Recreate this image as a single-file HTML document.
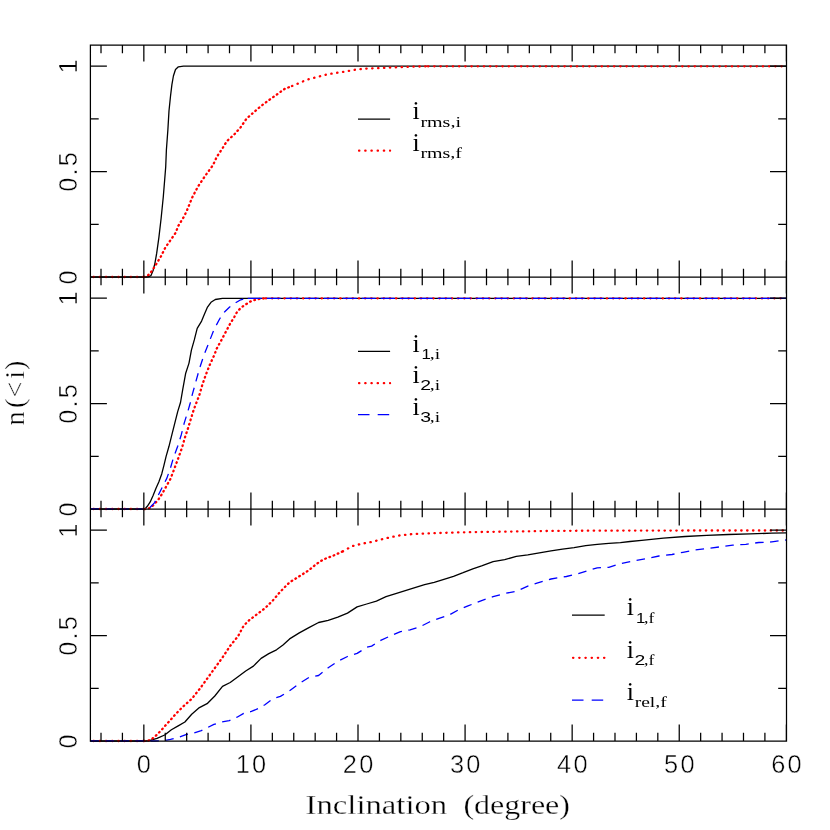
<!DOCTYPE html>
<html><head><meta charset="utf-8"><title>n(&lt;i) vs Inclination</title>
<style>html,body{margin:0;padding:0;background:#fff}svg{display:block}.t{font-family:"Liberation Sans",sans-serif;font-size:25.4px;fill:#000;letter-spacing:2.2px;stroke:#fff;stroke-width:0.45px;paint-order:fill stroke}.thin{stroke:#fff;stroke-width:0.28px;paint-order:fill stroke}.r{font-family:"Liberation Serif",serif;fill:#000}</style></head><body>
<svg style="will-change:transform" width="830" height="830" viewBox="0 0 830 830">
<rect width="830" height="830" fill="#fff"/>
<polyline stroke="#000" stroke-width="1.3" fill="none" stroke-linejoin="round" points="90.4,277.0 146.5,277.0 148.1,276.8 151.0,275.6 153.1,270.5 154.9,263.3 156.7,253.2 158.9,237.3 161.1,218.5 163.3,196.8 164.7,179.5 165.7,167.0 166.4,149.8 167.9,129.5 169.0,110.7 170.5,96.3 171.9,84.7 173.4,76.0 175.5,69.5 178.4,66.8 183.5,66.2 786.5,66.2"/>
<polyline stroke="#ff0000" stroke-width="2.3" fill="none" stroke-linecap="round" stroke-dasharray="0.4 5.8" points="93.5,277 144,277"/>
<polyline stroke="#ff0000" stroke-width="2.3" fill="none" stroke-linecap="round" stroke-linejoin="round" stroke-dasharray="0.7 3.8" points="144.0,277.0 145.9,276.6 149.5,274.2 153.1,269.1 156.7,263.3 161.1,256.1 165.4,247.4 170.5,240.2 175.5,233.0 178.4,225.7 184.2,216.3 187.8,208.4 192.2,197.5 197.9,186.7 205.2,175.8 213.1,165.0 216.7,157.0 222.5,148.3 226.9,141.1 234.1,134.6 240.5,127.5 246.7,118.4 254.5,111.7 261.2,105.9 268.9,100.1 276.6,94.7 284.3,89.1 292.0,86.0"/>
<polyline stroke="#ff0000" stroke-width="2.3" fill="none" stroke-linecap="round" stroke-linejoin="round" stroke-dasharray="0.4 5.5" points="292.0,86.0 299.8,82.8 307.5,79.5 317.1,77.0 326.7,74.5 334.5,73.1 344.1,71.8 353.7,69.9 363.4,68.7 374.9,68.3 386.5,67.7 400.0,67.2 415.0,66.6 428.0,66.3"/>
<polyline stroke="#ff0000" stroke-width="2.3" fill="none" stroke-linecap="round" stroke-dasharray="0.4 5.8" points="428.0,66.3 786.5,66.3"/>
<polyline stroke="#000" stroke-width="1.3" fill="none" stroke-linejoin="round" points="90.4,509.0 144.5,509.0 145.2,508.7 147.3,506.3 150.2,501.9 153.1,495.4 156.0,488.2 158.9,481.7 161.8,473.7 164.0,465.1 166.1,456.4 169.0,446.3 171.9,434.7 174.8,423.1 177.7,411.6 180.5,402.5 182.8,389.1 185.7,373.2 189.0,363.1 191.4,350.1 194.3,339.9 197.2,328.4 201.6,321.1 204.5,313.9 207.3,307.4 211.0,302.3 215.3,299.5 222.5,298.3 786.5,298.3"/>
<polyline stroke="#ff0000" stroke-width="2.3" fill="none" stroke-linecap="round" stroke-dasharray="0.4 5.8" points="93.5,509 144.5,509"/>
<polyline stroke="#ff0000" stroke-width="2.3" fill="none" stroke-linecap="round" stroke-linejoin="round" stroke-dasharray="0.7 3.8" points="144.5,509.1 145.9,509.0 149.5,508.1 153.9,504.8 158.2,499.8 162.5,493.2 166.1,486.7 170.5,478.8 174.1,469.4 178.4,457.8 182.0,447.7 184.9,437.6 187.8,428.9 190.7,419.5 193.6,410.1 196.5,402.5 199.4,394.9 202.3,384.8 205.9,374.6 210.2,363.8 214.6,354.4 216.7,348.6 221.1,340.7 226.1,331.3 229.8,324.3 234.3,317.0 237.3,311.5 239.9,308.9 242.9,306.3 246.5,303.9 250.1,301.7 254.9,299.9 259.8,298.8 265.8,298.3"/>
<polyline stroke="#ff0000" stroke-width="2.3" fill="none" stroke-linecap="round" stroke-dasharray="0.4 5.8" points="265.8,298.3 786.5,298.3"/>
<polyline stroke="#0000ff" stroke-width="1.3" fill="none" stroke-linejoin="round" stroke-dasharray="8.5 6.5" points="90.4,509.0 145.9,509.1 150.2,507.3 154.6,502.6 158.2,495.4 162.5,486.7 166.9,478.1 170.5,467.9 173.4,457.8 177.7,446.3 181.3,434.7 184.2,423.1 187.8,411.6 190.4,402.5 192.2,394.9 195.8,381.9 199.4,368.9 203.7,355.8 208.8,342.8 213.9,329.8 219.6,319.0 224.5,312.0 229.4,307.2 234.5,303.5 239.9,300.2 244.0,298.8 247.7,298.3"/>
<polyline stroke="#0000ff" stroke-width="1.25" fill="none" stroke-dasharray="14 5" points="247.7,298.3 786.5,298.3"/>
<polyline stroke="#000" stroke-width="1.3" fill="none" stroke-linejoin="round" points="90.4,741.0 145.0,741.0 149.3,740.7 157.0,738.4 164.7,735.0 171.4,729.8 178.2,725.9 184.9,722.0 191.7,714.3 199.4,707.6 207.1,703.7 214.8,696.0 222.5,686.4 230.2,682.5 238.0,676.7 245.7,671.0 253.4,666.1 261.1,658.4 268.8,653.6 276.5,649.8 283.0,645.0 289.6,638.9 299.3,632.9 308.9,627.6 318.6,622.5 328.2,620.4 337.8,617.2 347.5,613.1 357.1,606.9 366.7,604.0 376.4,601.1 386.0,596.7 395.7,593.6 405.3,590.7 414.9,587.6 424.6,584.7 434.2,582.3 443.9,579.4 453.5,576.3 463.1,572.7 472.8,568.8 481.6,565.9 493.1,561.7 504.7,559.7 516.3,556.3 527.8,554.9 539.4,552.8 551.0,550.9 562.5,549.1 574.1,547.6 585.7,545.7 597.2,544.3 608.8,543.3 620.4,542.6 630.0,541.5 641.7,540.4 663.4,538.2 685.1,536.5 706.7,535.4 728.4,534.5 750.1,533.9 771.8,533.2 786.5,532.8"/>
<polyline stroke="#ff0000" stroke-width="2.3" fill="none" stroke-linecap="round" stroke-dasharray="0.4 5.8" points="93.5,741 144,741"/>
<polyline stroke="#ff0000" stroke-width="2.3" fill="none" stroke-linecap="round" stroke-linejoin="round" stroke-dasharray="0.7 3.8" points="144.0,741.0 148.3,740.7 154.1,737.5 160.8,730.7 168.6,722.0 176.3,713.4 184.0,705.7 191.7,698.9 199.4,689.3 207.1,678.7 214.8,668.1 222.5,657.5 230.2,645.9 238.0,636.3 243.7,625.7 249.5,619.9 257.2,614.1 264.9,608.3 272.7,600.6 280.2,591.8 289.6,582.3 299.3,576.3 308.9,570.2 316.1,564.2 323.4,559.4 333.0,555.8 342.7,551.4"/>
<polyline stroke="#ff0000" stroke-width="2.3" fill="none" stroke-linecap="round" stroke-linejoin="round" stroke-dasharray="0.4 5.5" points="342.7,551.4 352.3,546.1 361.9,543.7 371.6,542.0 381.2,539.4 390.8,537.2 400.5,535.3 412.5,534.1 424.6,533.6 436.6,533.1 448.7,532.7 460.7,532.4 480.0,532.0 508.6,531.6 547.1,531.0 585.7,530.7 630.0,530.6 700.0,530.5 786.5,530.5"/>
<polyline stroke="#0000ff" stroke-width="1.3" fill="none" stroke-linejoin="round" stroke-dasharray="8.5 6.5" points="90.4,741.0 155.0,741.0 162.8,740.9 170.5,739.4 178.2,737.5 185.9,734.6 193.6,733.0 201.3,730.7 207.1,727.8 213.9,724.4 221.6,722.0 229.3,720.7 237.0,717.2 243.7,713.4 251.4,711.4 258.2,708.6 264.9,704.7 272.7,698.9 280.4,696.4 289.6,690.7 299.3,683.5 308.9,677.5 318.6,675.5 328.2,667.8 337.8,661.3 347.5,656.5 357.1,653.4 366.7,647.3 371.6,646.1 381.2,640.1 390.8,635.8 400.5,631.7 410.1,629.8 419.8,626.9 429.4,622.0 439.0,618.4 448.7,615.3 458.3,610.0 468.0,605.9 481.6,600.6 493.1,596.7 504.7,593.5 516.3,591.3 527.8,586.1 539.4,582.3 551.0,579.0 566.4,576.5 578.0,573.6 589.5,570.1 597.2,567.8 608.8,567.3 620.4,563.8 633.0,561.0 646.0,558.8 659.0,556.0 672.0,554.5 682.9,552.3 693.7,550.1 706.7,548.6 719.8,546.9 732.8,545.1 745.8,544.3 758.8,542.5 771.8,541.9 786.5,539.9"/>
<path d="M90.4,45.0H786.5V741.1H90.4ZM90.4,277.0H786.5M90.4,509.0H786.5M101.01,45.0v8.3M101.01,277.0v-8.3M101.01,277.0v8.3M101.01,509.0v-8.3M101.01,509.0v8.3M101.01,741.1v-8.3M122.42,45.0v8.3M122.42,277.0v-8.3M122.42,277.0v8.3M122.42,509.0v-8.3M122.42,509.0v8.3M122.42,741.1v-8.3M143.84,45.0v16.5M143.84,277.0v-16.5M143.84,277.0v16.5M143.84,509.0v-16.5M143.84,509.0v16.5M143.84,741.1v-16.5M165.26,45.0v8.3M165.26,277.0v-8.3M165.26,277.0v8.3M165.26,509.0v-8.3M165.26,509.0v8.3M165.26,741.1v-8.3M186.67,45.0v8.3M186.67,277.0v-8.3M186.67,277.0v8.3M186.67,509.0v-8.3M186.67,509.0v8.3M186.67,741.1v-8.3M208.09,45.0v8.3M208.09,277.0v-8.3M208.09,277.0v8.3M208.09,509.0v-8.3M208.09,509.0v8.3M208.09,741.1v-8.3M229.50,45.0v8.3M229.50,277.0v-8.3M229.50,277.0v8.3M229.50,509.0v-8.3M229.50,509.0v8.3M229.50,741.1v-8.3M250.92,45.0v16.5M250.92,277.0v-16.5M250.92,277.0v16.5M250.92,509.0v-16.5M250.92,509.0v16.5M250.92,741.1v-16.5M272.34,45.0v8.3M272.34,277.0v-8.3M272.34,277.0v8.3M272.34,509.0v-8.3M272.34,509.0v8.3M272.34,741.1v-8.3M293.75,45.0v8.3M293.75,277.0v-8.3M293.75,277.0v8.3M293.75,509.0v-8.3M293.75,509.0v8.3M293.75,741.1v-8.3M315.17,45.0v8.3M315.17,277.0v-8.3M315.17,277.0v8.3M315.17,509.0v-8.3M315.17,509.0v8.3M315.17,741.1v-8.3M336.58,45.0v8.3M336.58,277.0v-8.3M336.58,277.0v8.3M336.58,509.0v-8.3M336.58,509.0v8.3M336.58,741.1v-8.3M358.00,45.0v16.5M358.00,277.0v-16.5M358.00,277.0v16.5M358.00,509.0v-16.5M358.00,509.0v16.5M358.00,741.1v-16.5M379.42,45.0v8.3M379.42,277.0v-8.3M379.42,277.0v8.3M379.42,509.0v-8.3M379.42,509.0v8.3M379.42,741.1v-8.3M400.83,45.0v8.3M400.83,277.0v-8.3M400.83,277.0v8.3M400.83,509.0v-8.3M400.83,509.0v8.3M400.83,741.1v-8.3M422.25,45.0v8.3M422.25,277.0v-8.3M422.25,277.0v8.3M422.25,509.0v-8.3M422.25,509.0v8.3M422.25,741.1v-8.3M443.66,45.0v8.3M443.66,277.0v-8.3M443.66,277.0v8.3M443.66,509.0v-8.3M443.66,509.0v8.3M443.66,741.1v-8.3M465.08,45.0v16.5M465.08,277.0v-16.5M465.08,277.0v16.5M465.08,509.0v-16.5M465.08,509.0v16.5M465.08,741.1v-16.5M486.50,45.0v8.3M486.50,277.0v-8.3M486.50,277.0v8.3M486.50,509.0v-8.3M486.50,509.0v8.3M486.50,741.1v-8.3M507.91,45.0v8.3M507.91,277.0v-8.3M507.91,277.0v8.3M507.91,509.0v-8.3M507.91,509.0v8.3M507.91,741.1v-8.3M529.33,45.0v8.3M529.33,277.0v-8.3M529.33,277.0v8.3M529.33,509.0v-8.3M529.33,509.0v8.3M529.33,741.1v-8.3M550.74,45.0v8.3M550.74,277.0v-8.3M550.74,277.0v8.3M550.74,509.0v-8.3M550.74,509.0v8.3M550.74,741.1v-8.3M572.16,45.0v16.5M572.16,277.0v-16.5M572.16,277.0v16.5M572.16,509.0v-16.5M572.16,509.0v16.5M572.16,741.1v-16.5M593.58,45.0v8.3M593.58,277.0v-8.3M593.58,277.0v8.3M593.58,509.0v-8.3M593.58,509.0v8.3M593.58,741.1v-8.3M614.99,45.0v8.3M614.99,277.0v-8.3M614.99,277.0v8.3M614.99,509.0v-8.3M614.99,509.0v8.3M614.99,741.1v-8.3M636.41,45.0v8.3M636.41,277.0v-8.3M636.41,277.0v8.3M636.41,509.0v-8.3M636.41,509.0v8.3M636.41,741.1v-8.3M657.82,45.0v8.3M657.82,277.0v-8.3M657.82,277.0v8.3M657.82,509.0v-8.3M657.82,509.0v8.3M657.82,741.1v-8.3M679.24,45.0v16.5M679.24,277.0v-16.5M679.24,277.0v16.5M679.24,509.0v-16.5M679.24,509.0v16.5M679.24,741.1v-16.5M700.66,45.0v8.3M700.66,277.0v-8.3M700.66,277.0v8.3M700.66,509.0v-8.3M700.66,509.0v8.3M700.66,741.1v-8.3M722.07,45.0v8.3M722.07,277.0v-8.3M722.07,277.0v8.3M722.07,509.0v-8.3M722.07,509.0v8.3M722.07,741.1v-8.3M743.49,45.0v8.3M743.49,277.0v-8.3M743.49,277.0v8.3M743.49,509.0v-8.3M743.49,509.0v8.3M743.49,741.1v-8.3M764.90,45.0v8.3M764.90,277.0v-8.3M764.90,277.0v8.3M764.90,509.0v-8.3M764.90,509.0v8.3M764.90,741.1v-8.3M786.32,45.0v16.5M786.32,277.0v-16.5M786.32,277.0v16.5M786.32,509.0v-16.5M786.32,509.0v16.5M786.32,741.1v-16.5M90.4,224.28h8.3M786.5,224.28h-8.3M90.4,171.55h16.5M786.5,171.55h-16.5M90.4,118.82h8.3M786.5,118.82h-8.3M90.4,66.10h16.5M786.5,66.10h-16.5M90.4,456.27h8.3M786.5,456.27h-8.3M90.4,403.55h16.5M786.5,403.55h-16.5M90.4,350.82h8.3M786.5,350.82h-8.3M90.4,298.10h16.5M786.5,298.10h-16.5M90.4,688.38h8.3M786.5,688.38h-8.3M90.4,635.65h16.5M786.5,635.65h-16.5M90.4,582.92h8.3M786.5,582.92h-8.3M90.4,530.20h16.5M786.5,530.20h-16.5" stroke="#000" stroke-width="1.25" fill="none" stroke-linecap="butt"/>
<text class="t" x="145.0" y="772.6" text-anchor="middle">0</text>
<text class="t" x="252.1" y="772.6" text-anchor="middle">10</text>
<text class="t" x="359.2" y="772.6" text-anchor="middle">20</text>
<text class="t" x="466.3" y="772.6" text-anchor="middle">30</text>
<text class="t" x="573.4" y="772.6" text-anchor="middle">40</text>
<text class="t" x="680.4" y="772.6" text-anchor="middle">50</text>
<text class="t" x="787.5" y="772.6" text-anchor="middle">60</text>
<text class="t" transform="translate(77.0,276.3) rotate(-90)" text-anchor="middle">0</text>
<text class="t" transform="translate(77.0,170.9) rotate(-90)" text-anchor="middle">0.5</text>
<text class="t" transform="translate(77.0,65.4) rotate(-90)" text-anchor="middle">1</text>
<text class="t" transform="translate(77.0,508.3) rotate(-90)" text-anchor="middle">0</text>
<text class="t" transform="translate(77.0,402.9) rotate(-90)" text-anchor="middle">0.5</text>
<text class="t" transform="translate(77.0,297.4) rotate(-90)" text-anchor="middle">1</text>
<text class="t" transform="translate(77.0,740.4) rotate(-90)" text-anchor="middle">0</text>
<text class="t" transform="translate(77.0,634.9) rotate(-90)" text-anchor="middle">0.5</text>
<text class="t" transform="translate(77.0,529.5) rotate(-90)" text-anchor="middle">1</text>
<text class="r thin" id="xl" x="305.6" y="813.6" font-size="27" textLength="141.6" lengthAdjust="spacingAndGlyphs">Inclination</text>
<text class="r thin" id="xl2" x="463.4" y="813.6" font-size="27" textLength="106.6" lengthAdjust="spacingAndGlyphs">(degree)</text>
<text class="r thin" id="yl" transform="translate(24.3,425.2) rotate(-90)" font-size="28" x="-0.3 17.1 27.8 46.4 55.2">n(&lt;i)</text>
<path d="M358.0,119.19999999999999H390.1" stroke="#000" stroke-width="1.3"/>
<text class="r" x="412.4" y="119.4" font-size="25" textLength="7.2" lengthAdjust="spacingAndGlyphs">i</text>
<text class="r" x="420.4" y="126.6" font-size="15" textLength="40.6" lengthAdjust="spacingAndGlyphs">rms,i</text>
<path d="M359.0,150.70000000000002H390.1" stroke="#ff0000" stroke-width="2.2" stroke-linecap="round" stroke-dasharray="0.4 5.8"/>
<text class="r" x="412.4" y="150.7" font-size="25" textLength="7.2" lengthAdjust="spacingAndGlyphs">i</text>
<text class="r" x="420.4" y="157.9" font-size="15" textLength="41.6" lengthAdjust="spacingAndGlyphs">rms,f</text>
<path d="M358.0,351.40000000000003H390.1" stroke="#000" stroke-width="1.3"/>
<text class="r" x="412.4" y="351.6" font-size="25" textLength="7.2" lengthAdjust="spacingAndGlyphs">i</text>
<text x="421.6" y="358.8" font-size="14.8" textLength="9.4" lengthAdjust="spacingAndGlyphs" style="font-family:'Liberation Sans',sans-serif">1</text>
<text class="r" x="429.8" y="358.8" font-size="15" textLength="10.3" lengthAdjust="spacingAndGlyphs">,i</text>
<path d="M359.0,383.2H390.1" stroke="#ff0000" stroke-width="2.2" stroke-linecap="round" stroke-dasharray="0.4 5.8"/>
<text class="r" x="412.4" y="383.2" font-size="25" textLength="7.2" lengthAdjust="spacingAndGlyphs">i</text>
<text x="420.2" y="390.4" font-size="14.8" textLength="10.8" lengthAdjust="spacingAndGlyphs" style="font-family:'Liberation Sans',sans-serif">2</text>
<text class="r" x="429.8" y="390.4" font-size="15" textLength="10.3" lengthAdjust="spacingAndGlyphs">,i</text>
<path d="M358.0,414.5H390.1" stroke="#0000ff" stroke-width="1.25" stroke-dasharray="11.5 8.2"/>
<text class="r" x="412.4" y="414.7" font-size="25" textLength="7.2" lengthAdjust="spacingAndGlyphs">i</text>
<text x="420.2" y="421.9" font-size="14.8" textLength="10.8" lengthAdjust="spacingAndGlyphs" style="font-family:'Liberation Sans',sans-serif">3</text>
<text class="r" x="429.8" y="421.9" font-size="15" textLength="10.3" lengthAdjust="spacingAndGlyphs">,i</text>
<path d="M572.0,615.2H604.7" stroke="#000" stroke-width="1.3"/>
<text class="r" x="626.7" y="615.4" font-size="25" textLength="7.2" lengthAdjust="spacingAndGlyphs">i</text>
<text x="635.9" y="622.6" font-size="14.8" textLength="9.4" lengthAdjust="spacingAndGlyphs" style="font-family:'Liberation Sans',sans-serif">1</text>
<text class="r" x="644.1" y="622.6" font-size="15" textLength="10.3" lengthAdjust="spacingAndGlyphs">,f</text>
<path d="M573.0,657.8H604.7" stroke="#ff0000" stroke-width="2.2" stroke-linecap="round" stroke-dasharray="0.4 5.8"/>
<text class="r" x="626.7" y="657.8" font-size="25" textLength="7.2" lengthAdjust="spacingAndGlyphs">i</text>
<text x="634.5" y="665.0" font-size="14.8" textLength="10.8" lengthAdjust="spacingAndGlyphs" style="font-family:'Liberation Sans',sans-serif">2</text>
<text class="r" x="644.1" y="665.0" font-size="15" textLength="10.3" lengthAdjust="spacingAndGlyphs">,f</text>
<path d="M572.0,700.0H604.7" stroke="#0000ff" stroke-width="1.25" stroke-dasharray="11.5 8.2"/>
<text class="r" x="626.7" y="700.2" font-size="25" textLength="7.2" lengthAdjust="spacingAndGlyphs">i</text>
<text class="r" x="634.7" y="707.4" font-size="15" textLength="32.0" lengthAdjust="spacingAndGlyphs">rel,f</text>
</svg></body></html>
